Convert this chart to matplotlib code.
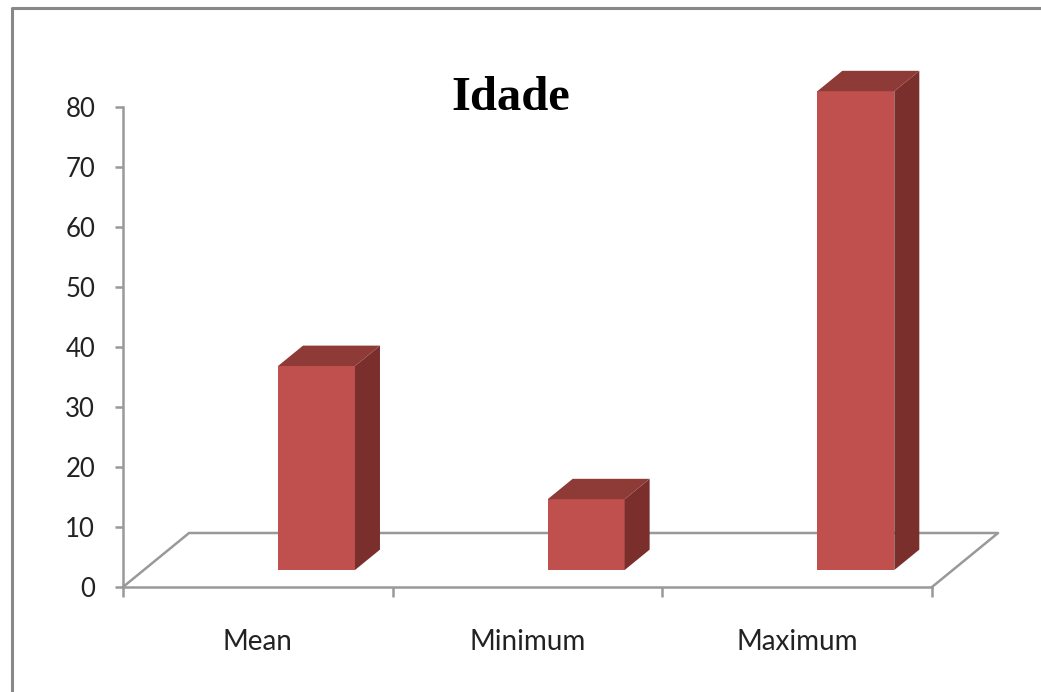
# Idade chart, fake 3D columns drawn with polygons
import matplotlib
matplotlib.use('Agg')
import matplotlib.pyplot as plt
from matplotlib.lines import Line2D
from matplotlib.patches import Polygon

# Data
categories = ['Mean', 'Minimum', 'Maximum']
values = [34, 11.8, 79.8]
y_ticks = [0, 10, 20, 30, 40, 50, 60, 70, 80]

# Figure size in pixels
W = 1041
H = 692

# Colours
front_color = '#C0504D'
side_color = '#7A2F2D'
top_color = '#8E3A37'
axis_color = '#999999'
text_color = '#222222'

# 3D look, in data units
bar_width = 0.2855
bar_shift = 0.2175
base = 2.83
depth_x = 0.0927
depth_y = 3.4
floor_x = 0.245
floor_y = 9

fig = plt.figure(figsize=(W / 100, H / 100), dpi=100, facecolor='white')

# Axes placed so x 0-3 runs from 123 to 932 px and y 0-80 from 587 to 107 px
ax = fig.add_axes([123 / W, 1 - 587 / H, 809 / W, 480 / H])
ax.set_xlim(0, 3)
ax.set_ylim(0, 80)
ax.patch.set_alpha(0)

# Floor of the 3D plot
floor_xs = [0, floor_x, 3 + floor_x, 3]
floor_ys = [0, floor_y, floor_y, 0]
ax.plot(floor_xs, floor_ys, color=axis_color, lw=1.8, clip_on=False, zorder=1)

# Columns
for i, v in enumerate(values):
    x0 = i + 0.5 + bar_shift - bar_width / 2
    x1 = x0 + bar_width
    top = base + v
    ax.add_patch(Polygon([(x0, base), (x1, base), (x1, top), (x0, top)],
                         facecolor=front_color, edgecolor='none', clip_on=False, zorder=3))
    ax.add_patch(Polygon([(x1, base), (x1 + depth_x, base + depth_y),
                          (x1 + depth_x, top + depth_y), (x1, top)],
                         facecolor=side_color, edgecolor='none', clip_on=False, zorder=3))
    ax.add_patch(Polygon([(x0, top), (x1, top), (x1 + depth_x, top + depth_y),
                          (x0 + depth_x, top + depth_y)],
                         facecolor=top_color, edgecolor='none', clip_on=False, zorder=3))

# Axes and ticks
for side in ['top', 'right']:
    ax.spines[side].set_visible(False)
for side in ['left', 'bottom']:
    ax.spines[side].set_color(axis_color)
    ax.spines[side].set_linewidth(1.8)

ax.set_yticks(y_ticks)
ax.set_xticks([0, 1, 2, 3])
ax.set_xticklabels([])
ax.set_xticks([0.5, 1.5, 2.5], labels=categories, minor=True)
ax.tick_params(axis='y', length=6, width=1.8, color=axis_color, pad=14,
               labelsize=18.5, labelcolor=text_color)
ax.tick_params(axis='x', which='major', length=7, width=1.8, color=axis_color)
ax.tick_params(axis='x', which='minor', length=0, pad=30, labelsize=20, labelcolor=text_color)
for label in ax.get_yticklabels() + ax.get_xticklabels(minor=True):
    label.set_family('Lato')

# Title
fig.text(511 / W, 1 - 98 / H, 'Idade', family='Liberation Serif', fontweight='bold',
         fontsize=35, color='black', ha='center', va='center')

# Outer frame, only top and left edges are visible
fig.add_artist(Line2D([12 / W, 12 / W, 1], [0, 1 - 8 / H, 1 - 8 / H], color='#888888', lw=2.2))

fig.savefig('out.png', dpi=100)
